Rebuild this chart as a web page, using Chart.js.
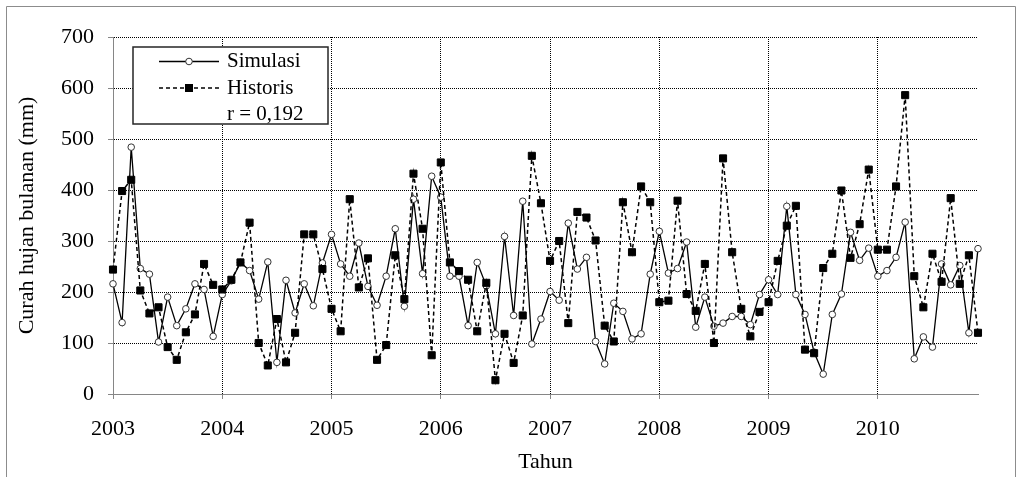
<!DOCTYPE html>
<html>
<head>
<meta charset="utf-8">
<script src="https://cdn.jsdelivr.net/npm/chart.js@4.4.1/dist/chart.umd.min.js"></script>
<style>
  html, body { margin: 0; padding: 0; background: #fff; }
  #wrap { width: 1022px; height: 477px; }
</style>
</head>
<body>
<div id="wrap"><canvas id="c" width="1022" height="477"></canvas></div>
<script>
/* Curah hujan bulanan 2003-2010: simulasi vs historis */

const tahun = [2003, 2004, 2005, 2006, 2007, 2008, 2009, 2010];
const namaBulan = ["Jan", "Feb", "Mar", "Apr", "Mei", "Jun", "Jul", "Agu", "Sep", "Okt", "Nov", "Des"];

const simulasi = [
  216, 140, 484, 246, 235, 102, 190, 134, 167, 216, 205, 113,
  195, 222, 258, 242, 186, 259, 62, 223, 159, 216, 173, 257,
  313, 255, 231, 296, 211, 174, 231, 324, 172, 382, 236, 427,
  386, 231, 231, 134, 258, 212, 118, 309, 154, 378, 98, 147,
  201, 184, 335, 245, 268, 103, 59, 178, 162, 108, 118, 235,
  319, 237, 246, 298, 131, 190, 133, 139, 152, 152, 136, 195,
  224, 195, 368, 195, 156, 82, 39, 156, 196, 317, 262, 286,
  231, 242, 268, 337, 69, 112, 92, 255, 214, 252, 120, 285
];

const historis = [
  244, 398, 420, 203, 158, 170, 92, 67, 121, 156, 255, 214,
  205, 224, 258, 336, 100, 56, 147, 62, 120, 313, 313, 245,
  167, 123, 382, 209, 266, 67, 96, 272, 186, 432, 324, 76,
  454, 258, 241, 224, 123, 218, 27, 118, 61, 154, 467, 374,
  261, 300, 139, 357, 346, 301, 134, 103, 376, 278, 407, 376,
  180, 183, 379, 196, 163, 255, 100, 462, 278, 167, 113, 161,
  180, 261, 330, 369, 87, 80, 247, 275, 399, 267, 333, 440,
  283, 283, 407, 586, 231, 170, 275, 220, 384, 216, 272, 120
];

const korelasi = "r = 0,192";
const bulan = tahun.flatMap((t) => namaBulan.map((b) => b + " " + t));

const SERIF = "'Liberation Serif', 'Times New Roman', serif";
const AXIS = "#868686";

/* bingkai luar gambar */
const bingkai = {
  id: "bingkai",
  beforeDraw(chart) {
    const ctx = chart.ctx;
    ctx.save();
    ctx.strokeStyle = "#8c8c8c";
    ctx.lineWidth = 1;
    ctx.beginPath();
    ctx.moveTo(6.5, 477);
    ctx.lineTo(6.5, 6.5);
    ctx.lineTo(1015.5, 6.5);
    ctx.lineTo(1015.5, 477);
    ctx.stroke();
    ctx.restore();
  },
};

/* kotak legenda di dalam area plot */
const legenda = {
  id: "legenda",
  afterDraw(chart) {
    const ctx = chart.ctx;
    const x0 = 133, y0 = 47, w = 195, h = 77;
    ctx.save();
    ctx.fillStyle = "#fff";
    ctx.fillRect(x0, y0, w, h);
    ctx.strokeStyle = "#262626";
    ctx.lineWidth = 1.5;
    ctx.strokeRect(x0, y0, w, h);

    // Simulasi
    ctx.strokeStyle = "#000";
    ctx.lineWidth = 1.3;
    ctx.beginPath();
    ctx.moveTo(159, 61.5); ctx.lineTo(219, 61.5);
    ctx.stroke();
    ctx.fillStyle = "#fff";
    ctx.strokeStyle = "#333";
    ctx.lineWidth = 1;
    ctx.beginPath();
    ctx.arc(189, 61.5, 3.3, 0, Math.PI * 2);
    ctx.fill(); ctx.stroke();

    // Historis
    ctx.strokeStyle = "#000";
    ctx.lineWidth = 1.5;
    ctx.setLineDash([4, 3]);
    ctx.beginPath();
    ctx.moveTo(159, 88); ctx.lineTo(219, 88);
    ctx.stroke();
    ctx.setLineDash([]);
    ctx.fillStyle = "#000";
    ctx.fillRect(185, 84, 8, 8);

    ctx.fillStyle = "#000";
    ctx.font = "21px " + SERIF;
    ctx.textBaseline = "middle";
    ctx.textAlign = "left";
    ctx.fillText("Simulasi", 227, 61);
    ctx.fillText("Historis", 227, 88);
    ctx.fillText(korelasi, 227, 114);
    ctx.restore();
  },
};

new Chart(document.getElementById("c"), {
  type: "line",
  data: {
    labels: bulan,
    datasets: [
      {
        label: "Simulasi",
        data: simulasi,
        order: 1,
        borderColor: "#000",
        borderWidth: 1.3,
        tension: 0,
        pointStyle: "circle",
        pointRadius: 3.3,
        pointBorderWidth: 1,
        pointBackgroundColor: "#fff",
        pointBorderColor: "#333",
      },
      {
        label: "Historis",
        data: historis,
        order: 0,
        borderColor: "#000",
        borderWidth: 1.5,
        borderDash: [4, 3],
        tension: 0,
        pointStyle: "rect",
        pointRadius: 5,
        pointBorderWidth: 1,
        pointBackgroundColor: "#000",
        pointBorderColor: "#000",
      },
    ],
  },
  options: {
    responsive: false,
    animation: false,
    devicePixelRatio: 1,
    layout: { padding: { left: 0, top: 37, right: 44, bottom: 0 } },
    plugins: {
      legend: { display: false },
      tooltip: { enabled: false },
    },
    scales: {
      x: {
        type: "category",
        offset: false,
        afterFit(scale) { scale.height = 83; },
        grid: {
          color: (c) => (c.index % 12 === 0 ? "#000" : "transparent"),
          tickColor: (c) => (c.index % 12 === 0 ? AXIS : "transparent"),
          tickLength: 5,
          lineWidth: 1,
        },
        border: { color: AXIS, width: 1, dash: [1, 1] },
        ticks: {
          autoSkip: false,
          maxRotation: 0,
          minRotation: 0,
          padding: 17,
          color: "#000",
          font: { family: SERIF, size: 22 },
          callback: (v, i) => (i % 12 === 0 ? String(tahun[i / 12]) : ""),
        },
        title: {
          display: true,
          text: "Tahun",
          color: "#000",
          font: { family: SERIF, size: 22 },
          padding: { top: 0, bottom: 2 },
        },
      },
      y: {
        min: 0,
        max: 700,
        afterFit(scale) { scale.width = 113; },
        grid: { color: "#000", tickColor: AXIS, tickLength: 5, lineWidth: 1 },
        border: { color: AXIS, width: 1, dash: [1, 1] },
        ticks: {
          stepSize: 100,
          padding: 14,
          color: "#000",
          font: { family: SERIF, size: 22 },
        },
        title: {
          display: true,
          text: "Curah hujan bulanan (mm)",
          color: "#000",
          font: { family: SERIF, size: 22 },
          padding: { top: 14, bottom: 0 },
        },
      },
    },
  },
  plugins: [bingkai, legenda],
});
</script>
</body>
</html>
